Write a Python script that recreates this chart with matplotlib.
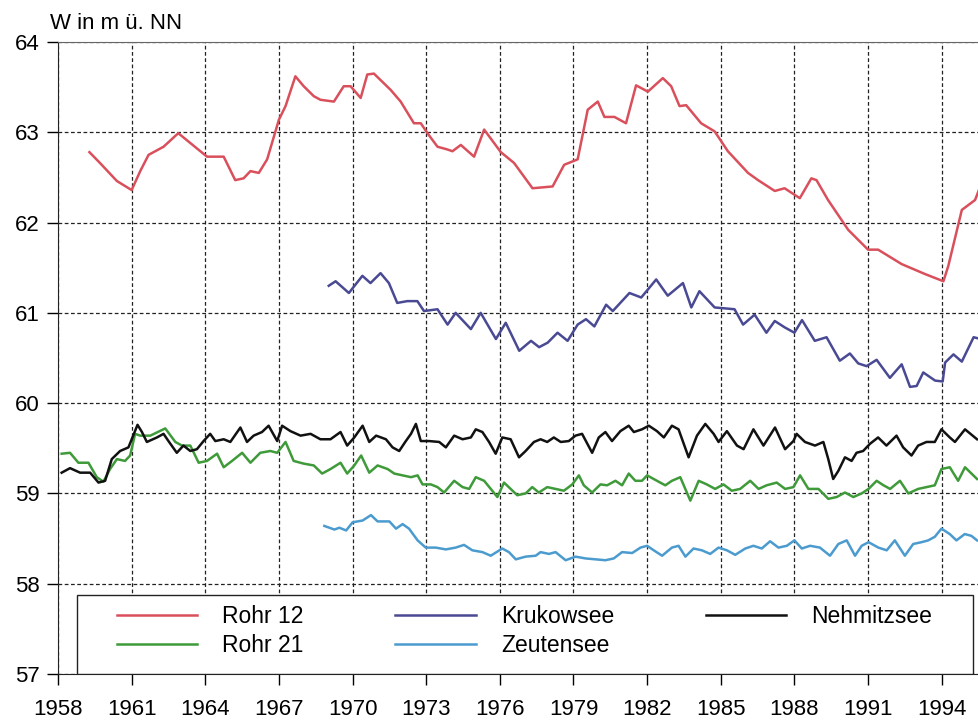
import matplotlib
matplotlib.use("Agg")
import matplotlib.pyplot as plt
from matplotlib.patches import Rectangle

plt.rcParams['font.family'] = ['Liberation Sans', 'DejaVu Sans']

# Wasserstaende (Jahr, m ue. NN)
rohr12 = [(1959.28, 62.78), (1959.71, 62.66), (1960.4, 62.46), (1961.0, 62.36), (1961.35, 62.57),
          (1961.69, 62.75), (1962.3, 62.84), (1962.9, 62.99), (1963.8, 62.79), (1964.07, 62.73),
          (1964.75, 62.73), (1965.22, 62.47), (1965.56, 62.49), (1965.84, 62.57), (1966.18, 62.55),
          (1966.52, 62.70), (1967.0, 63.14), (1967.27, 63.29), (1967.67, 63.62), (1968.01, 63.51),
          (1968.42, 63.40), (1968.69, 63.36), (1969.24, 63.34), (1969.64, 63.51), (1969.92, 63.51),
          (1970.33, 63.38), (1970.6, 63.64), (1970.87, 63.65), (1971.55, 63.47), (1971.96, 63.34),
          (1972.5, 63.10), (1972.78, 63.10), (1973.05, 62.99), (1973.46, 62.84), (1973.86, 62.81),
          (1974.07, 62.79), (1974.41, 62.86), (1974.95, 62.73), (1975.36, 63.03), (1976.04, 62.78),
          (1976.58, 62.66), (1977.33, 62.38), (1978.15, 62.40), (1978.62, 62.64), (1979.17, 62.70),
          (1979.58, 63.25), (1979.99, 63.34), (1980.26, 63.17), (1980.67, 63.17), (1981.14, 63.10),
          (1981.55, 63.52), (1982.03, 63.45), (1982.64, 63.60), (1982.98, 63.51), (1983.32, 63.29),
          (1983.59, 63.30), (1984.2, 63.10), (1984.75, 63.01), (1985.29, 62.79), (1986.11, 62.55),
          (1986.52, 62.47), (1987.2, 62.35), (1987.6, 62.38), (1988.22, 62.27), (1988.69, 62.49),
          (1988.9, 62.47), (1989.37, 62.25), (1990.19, 61.92), (1991.0, 61.70), (1991.41, 61.70),
          (1992.37, 61.54), (1993.32, 61.43), (1994.07, 61.35), (1994.27, 61.52), (1994.82, 62.14),
          (1995.36, 62.25), (1995.6, 62.42)]

krukowsee = [(1969.03, 61.30), (1969.31, 61.35), (1969.85, 61.22), (1970.4, 61.41), (1970.73, 61.33),
             (1971.14, 61.44), (1971.48, 61.33), (1971.82, 61.11), (1972.23, 61.13), (1972.64, 61.13),
             (1972.91, 61.02), (1973.46, 61.04), (1973.87, 60.87), (1974.2, 61.0), (1974.82, 60.82),
             (1975.22, 61.0), (1975.84, 60.71), (1976.24, 60.89), (1976.79, 60.58), (1977.27, 60.69),
             (1977.6, 60.62), (1977.95, 60.67), (1978.35, 60.78), (1978.76, 60.69), (1979.17, 60.87),
             (1979.51, 60.93), (1979.85, 60.85), (1980.33, 61.09), (1980.6, 61.02), (1981.28, 61.22),
             (1981.76, 61.17), (1982.37, 61.37), (1982.84, 61.19), (1983.46, 61.33), (1983.8, 61.06),
             (1984.13, 61.24), (1984.75, 61.06), (1985.56, 61.04), (1985.91, 60.87), (1986.38, 60.98),
             (1986.86, 60.78), (1987.2, 60.91), (1987.6, 60.84), (1988.0, 60.78), (1988.31, 60.92),
             (1988.83, 60.69), (1989.31, 60.73), (1989.85, 60.47), (1990.26, 60.55), (1990.6, 60.44),
             (1990.94, 60.41), (1991.35, 60.48), (1991.89, 60.28), (1992.37, 60.43), (1992.71, 60.18),
             (1992.98, 60.19), (1993.25, 60.34), (1993.73, 60.25), (1994.04, 60.24), (1994.14, 60.45),
             (1994.48, 60.54), (1994.82, 60.46), (1995.3, 60.73), (1995.6, 60.71)]

nehmitzsee = [(1958.15, 59.23), (1958.49, 59.28), (1958.9, 59.23), (1959.31, 59.23), (1959.65, 59.12),
              (1959.92, 59.14), (1960.19, 59.38), (1960.53, 59.47), (1960.87, 59.51), (1961.24, 59.76),
              (1961.42, 59.68), (1961.62, 59.57), (1962.03, 59.62), (1962.3, 59.66), (1962.5, 59.58),
              (1962.84, 59.45), (1963.11, 59.53), (1963.39, 59.47), (1963.66, 59.49), (1963.93, 59.58),
              (1964.2, 59.66), (1964.41, 59.58), (1964.75, 59.60), (1965.02, 59.57), (1965.43, 59.73),
              (1965.7, 59.57), (1965.97, 59.64), (1966.31, 59.68), (1966.58, 59.75), (1966.93, 59.58),
              (1967.13, 59.75), (1967.47, 59.69), (1967.88, 59.64), (1968.29, 59.66), (1968.69, 59.60),
              (1969.1, 59.60), (1969.51, 59.68), (1969.78, 59.53), (1970.07, 59.62), (1970.41, 59.75),
              (1970.68, 59.57), (1970.96, 59.64), (1971.36, 59.60), (1971.63, 59.51), (1971.9, 59.47),
              (1972.17, 59.58), (1972.38, 59.66), (1972.58, 59.77), (1972.78, 59.58), (1973.12, 59.58),
              (1973.53, 59.57), (1973.8, 59.51), (1974.14, 59.64), (1974.48, 59.60), (1974.82, 59.62),
              (1975.02, 59.71), (1975.29, 59.68), (1975.56, 59.57), (1975.83, 59.44), (1976.1, 59.62),
              (1976.44, 59.60), (1976.78, 59.40), (1977.05, 59.47), (1977.39, 59.57), (1977.66, 59.60),
              (1977.93, 59.57), (1978.2, 59.62), (1978.48, 59.57), (1978.81, 59.58), (1979.08, 59.64),
              (1979.35, 59.66), (1979.76, 59.45), (1980.03, 59.62), (1980.3, 59.68), (1980.57, 59.58),
              (1980.91, 59.69), (1981.25, 59.75), (1981.46, 59.68), (1981.79, 59.71), (1982.07, 59.75),
              (1982.4, 59.69), (1982.68, 59.62), (1983.01, 59.75), (1983.28, 59.71), (1983.69, 59.40),
              (1984.03, 59.64), (1984.37, 59.77), (1984.71, 59.66), (1984.91, 59.57), (1985.25, 59.69),
              (1985.66, 59.53), (1985.93, 59.49), (1986.33, 59.71), (1986.74, 59.53), (1987.21, 59.73),
              (1987.62, 59.49), (1987.96, 59.58), (1988.09, 59.66), (1988.43, 59.57), (1988.84, 59.53),
              (1989.18, 59.57), (1989.38, 59.38), (1989.58, 59.16), (1989.79, 59.25), (1990.06, 59.40),
              (1990.33, 59.36), (1990.53, 59.45), (1990.8, 59.47), (1991.08, 59.55), (1991.41, 59.62),
              (1991.75, 59.53), (1992.16, 59.64), (1992.43, 59.51), (1992.77, 59.42), (1993.04, 59.53),
              (1993.38, 59.57), (1993.72, 59.57), (1993.99, 59.71), (1994.33, 59.62), (1994.54, 59.57),
              (1994.95, 59.71), (1995.44, 59.60)]

rohr21 = [(1958.15, 59.44), (1958.49, 59.45), (1958.83, 59.34), (1959.24, 59.34), (1959.58, 59.18),
          (1959.85, 59.13), (1960.12, 59.27), (1960.4, 59.38), (1960.73, 59.36), (1960.94, 59.42),
          (1961.14, 59.66), (1961.35, 59.64), (1961.76, 59.64), (1962.37, 59.72), (1962.78, 59.57),
          (1963.05, 59.53), (1963.39, 59.53), (1963.73, 59.34), (1964.07, 59.36), (1964.48, 59.44),
          (1964.75, 59.29), (1965.09, 59.36), (1965.5, 59.45), (1965.84, 59.34), (1966.24, 59.45),
          (1966.65, 59.47), (1966.93, 59.45), (1967.27, 59.57), (1967.6, 59.36), (1968.01, 59.33),
          (1968.42, 59.31), (1968.76, 59.22), (1969.1, 59.27), (1969.51, 59.34), (1969.78, 59.22),
          (1970.07, 59.31), (1970.35, 59.42), (1970.68, 59.23), (1971.02, 59.31), (1971.43, 59.27),
          (1971.7, 59.22), (1972.04, 59.20), (1972.38, 59.18), (1972.65, 59.20), (1972.85, 59.10),
          (1973.19, 59.10), (1973.46, 59.07), (1973.73, 59.01), (1974.14, 59.14), (1974.48, 59.07),
          (1974.75, 59.05), (1975.02, 59.18), (1975.36, 59.14), (1975.63, 59.05), (1975.9, 58.96),
          (1976.17, 59.12), (1976.44, 59.05), (1976.71, 58.98), (1977.05, 59.0), (1977.32, 59.07),
          (1977.59, 59.01), (1977.93, 59.07), (1978.27, 59.05), (1978.61, 59.03), (1978.95, 59.10),
          (1979.22, 59.20), (1979.42, 59.09), (1979.76, 59.01), (1980.1, 59.10), (1980.37, 59.09),
          (1980.71, 59.14), (1980.98, 59.09), (1981.25, 59.22), (1981.52, 59.14), (1981.79, 59.14),
          (1982.0, 59.20), (1982.4, 59.14), (1982.74, 59.09), (1983.01, 59.14), (1983.35, 59.18),
          (1983.76, 58.92), (1984.1, 59.14), (1984.43, 59.10), (1984.77, 59.05), (1985.11, 59.10),
          (1985.45, 59.03), (1985.79, 59.05), (1986.2, 59.14), (1986.54, 59.05), (1986.87, 59.09),
          (1987.28, 59.12), (1987.62, 59.05), (1987.96, 59.07), (1988.23, 59.20), (1988.57, 59.05),
          (1988.98, 59.05), (1989.38, 58.94), (1989.72, 58.96), (1990.06, 59.01), (1990.4, 58.96),
          (1990.74, 59.0), (1991.02, 59.05), (1991.35, 59.14), (1991.63, 59.09), (1991.9, 59.05),
          (1992.3, 59.14), (1992.64, 59.0), (1993.04, 59.05), (1993.38, 59.07), (1993.72, 59.09),
          (1993.99, 59.27), (1994.33, 59.29), (1994.67, 59.14), (1994.95, 59.29), (1995.44, 59.16)]

zeutensee = [(1968.85, 58.64), (1969.26, 58.60), (1969.46, 58.62), (1969.74, 58.59), (1970.0, 58.68),
             (1970.41, 58.70), (1970.75, 58.76), (1971.02, 58.69), (1971.5, 58.69), (1971.77, 58.61),
             (1972.04, 58.66), (1972.3, 58.61), (1972.65, 58.48), (1972.98, 58.40), (1973.39, 58.40),
             (1973.8, 58.38), (1974.2, 58.40), (1974.54, 58.43), (1974.88, 58.37), (1975.29, 58.35),
             (1975.63, 58.31), (1976.1, 58.39), (1976.37, 58.35), (1976.65, 58.27), (1977.05, 58.30),
             (1977.46, 58.31), (1977.66, 58.35), (1978.0, 58.33), (1978.27, 58.35), (1978.68, 58.26),
             (1979.08, 58.30), (1979.49, 58.28), (1979.9, 58.27), (1980.3, 58.26), (1980.64, 58.28),
             (1980.98, 58.35), (1981.39, 58.34), (1981.73, 58.40), (1982.0, 58.42), (1982.27, 58.37),
             (1982.61, 58.31), (1983.01, 58.40), (1983.28, 58.42), (1983.56, 58.30), (1983.89, 58.39),
             (1984.23, 58.37), (1984.57, 58.33), (1984.91, 58.40), (1985.25, 58.37), (1985.59, 58.32),
             (1986.0, 58.39), (1986.33, 58.42), (1986.67, 58.39), (1987.01, 58.47), (1987.35, 58.40),
             (1987.69, 58.42), (1988.0, 58.48), (1988.3, 58.39), (1988.64, 58.42), (1989.04, 58.40),
             (1989.45, 58.31), (1989.79, 58.44), (1990.13, 58.48), (1990.47, 58.31), (1990.74, 58.42),
             (1991.02, 58.46), (1991.42, 58.40), (1991.76, 58.37), (1992.09, 58.48), (1992.5, 58.31),
             (1992.84, 58.44), (1993.18, 58.46), (1993.45, 58.48), (1993.72, 58.52), (1993.99, 58.61),
             (1994.33, 58.55), (1994.6, 58.48), (1994.94, 58.55), (1995.21, 58.53), (1995.44, 58.48)]

x_ticks = list(range(1958, 1995, 3))
y_ticks = [57, 58, 59, 60, 61, 62, 63, 64]

fig = plt.figure(figsize=(9.79, 7.2), dpi=100)
ax = fig.add_axes([58 / 979, 46 / 720, 921 / 979, 632 / 720])

kurven = [
    (rohr12, "Rohr 12", "#d9505c"),
    (rohr21, "Rohr 21", "#3f9a3a"),
    (krukowsee, "Krukowsee", "#4a4a94"),
    (zeutensee, "Zeutensee", "#4b9bcf"),
    (nehmitzsee, "Nehmitzsee", "#111111"),
]
for werte, name, farbe in kurven:
    xs = [w[0] for w in werte]
    ys = [w[1] for w in werte]
    ax.plot(xs, ys, color=farbe, lw=1.8, label=name, zorder=2)

ax.set_xlim(1958, 1995.52)
ax.set_ylim(57, 64)
ax.set_xticks(x_ticks)
ax.set_yticks(y_ticks)
ax.tick_params(axis='x', labelsize=16, length=8, width=1, pad=10, direction='out')
ax.tick_params(axis='y', labelsize=16, length=8, width=1, pad=5, direction='out')

ax.set_axisbelow(True)
ax.grid(True, color='#222222', lw=0.9, linestyle=(0, (3, 2)))
ax.spines['right'].set_visible(False)
ax.spines['top'].set_color('#666666')
ax.spines['left'].set_color('#222222')
ax.spines['bottom'].set_color('#222222')

# Legendenrahmen (weiss, deckt das Gitter ab)
rahmen = Rectangle((19 / 921, 0), 896 / 921, 79 / 632, transform=ax.transAxes,
                   facecolor='white', edgecolor='#222222', lw=1, zorder=3)
ax.add_patch(rahmen)
leg = ax.legend(loc='center left', bbox_to_anchor=(59 / 921, 43 / 632), ncol=3,
                frameon=False, fontsize=16.5, handlelength=3.5, handletextpad=1.1,
                columnspacing=4.0, labelspacing=0.28, borderpad=0, borderaxespad=0)
leg.set_zorder(4)

fig.text(50 / 979, 1 - 29 / 720, "W in m ü. NN", fontsize=16, va='baseline')

fig.savefig("out.png", dpi=100)
